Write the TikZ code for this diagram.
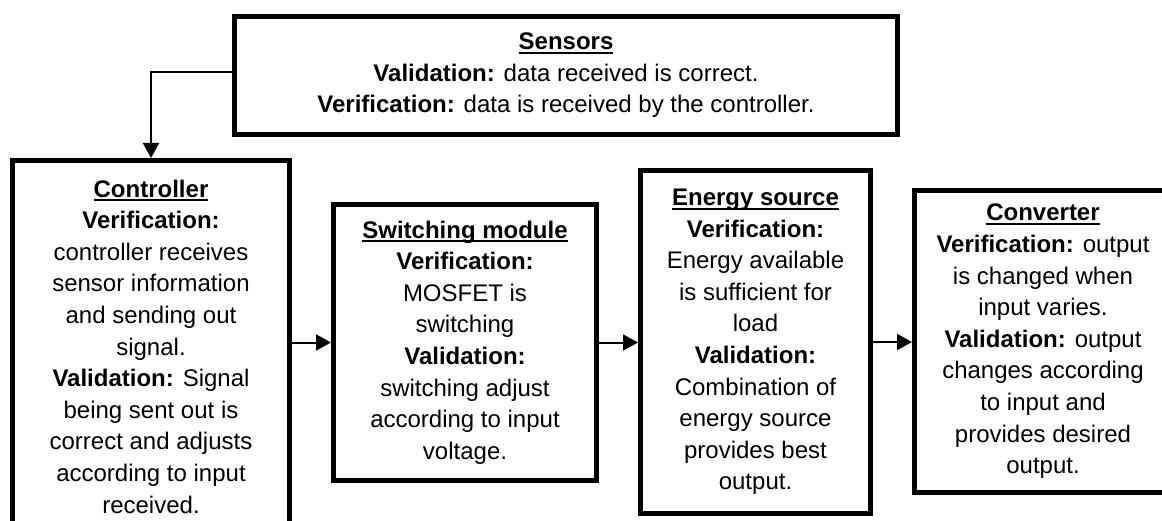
\documentclass[tikz,border=0pt]{standalone}
\usepackage{fontspec}
\setmainfont{Liberation Sans}
\usetikzlibrary{arrows.meta}
% heading with a firm underline
\newcommand\boxtitle[1]{\setbox0\hbox{\bfseries #1}\rlap{\rule[-4pt]{\wd0}{2pt}}\box0}
\tikzset{
  blockbox/.style={draw, line width=5pt, inner sep=0pt, align=center,
    font=\fontsize{24}{31.6}\selectfont},
  flow/.style={line width=2pt, -{Triangle[length=15pt,width=16pt]}}
}
\begin{document}
\begin{tikzpicture}[x=1pt, y=-1pt]
\clip (0,0) rectangle (1162,521);

\node[blockbox, minimum width=663pt, minimum height=118pt] (sens) at (566,75.5)
  {\boxtitle{Sensors}\\
   \textbf{Validation:} data received is correct.\\
   \textbf{Verification:} data is received by the controller.};

\node[blockbox, minimum width=277pt, minimum height=372pt] (ctrl) at (151,346.5)
  {\boxtitle{Controller}\\
   \textbf{Verification:}\\
   controller receives\\
   sensor information\\
   and sending out\\
   signal.\\
   \textbf{Validation:} Signal\\
   being sent out is\\
   correct and adjusts\\
   according to input\\
   received.};

\node[blockbox, minimum width=263pt, minimum height=276pt] (swm) at (465,342.5)
  {\boxtitle{Switching module}\\
   \textbf{Verification:}\\
   MOSFET is\\
   switching\\
   \textbf{Validation:}\\
   switching adjust\\
   according to input\\
   voltage.};

\node[blockbox, minimum width=230pt, minimum height=343pt] (ens) at (755.5,342)
  {\boxtitle{Energy source}\\
   \textbf{Verification:}\\
   Energy available\\
   is sufficient for\\
   load\\
   \textbf{Validation:}\\
   Combination of\\
   energy source\\
   provides best\\
   output.};

\node[blockbox, minimum width=257pt, minimum height=302pt] (conv) at (1043,341.5)
  {\boxtitle{Converter}\\
   \textbf{Verification:} output\\
   is changed when\\
   input varies.\\
   \textbf{Validation:} output\\
   changes according\\
   to input and\\
   provides desired\\
   output.};

% signal flow
\draw[flow] ([yshift=3.5pt]sens.west) -| (ctrl.north);
\draw[flow] (ctrl.east |- swm.west) -- (swm.west);
\draw[flow] (swm.east) -- (swm.east -| ens.west);
\draw[flow] (ens.east) -- (ens.east -| conv.west);
\end{tikzpicture}
\end{document}
